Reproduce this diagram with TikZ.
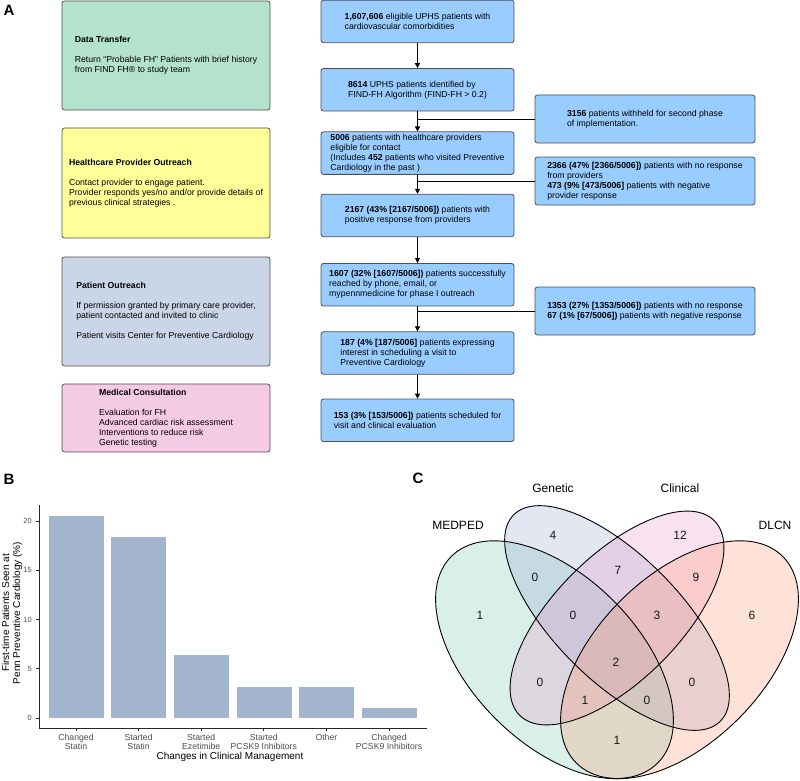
\documentclass[tikz,border=0pt]{standalone}
\usepackage{fontspec}
\setmainfont{Liberation Sans}
\usepackage{xcolor}
\usepackage{tikz}
\usetikzlibrary{arrows.meta,positioning,calc}

\definecolor{flowblue}{HTML}{99CCFF}
\definecolor{boxline}{HTML}{505050}
\definecolor{stagegreen}{HTML}{B3E2CD}
\definecolor{stageyellow}{HTML}{FFFF99}
\definecolor{stagelilac}{HTML}{CBD5E8}
\definecolor{stagepink}{HTML}{F4CAE4}
\definecolor{barfill}{HTML}{A2B5CD}
\definecolor{axisgray}{HTML}{4D4D4D}
\definecolor{vgreen}{HTML}{66C2A5}
\definecolor{vblue}{HTML}{8DA0CB}
\definecolor{vpink}{HTML}{E78AC3}
\definecolor{vorange}{HTML}{FC8D62}

\newcommand{\flowfont}{\fontsize{8.7}{10}\selectfont}

\begin{document}
\begin{tikzpicture}[x=1pt, y=-1pt,
  node distance=25pt,
  flowbox/.style={draw=boxline, fill=flowblue, rounded corners=2.5pt, align=left,
                  font=\flowfont, minimum width=193pt, minimum height=42.5pt,
                  inner sep=0pt, line width=0.8pt},
  sidebox/.style={flowbox, minimum width=220pt, minimum height=48pt},
  stagebox/.style={draw=boxline, rounded corners=2.5pt, align=left, font=\flowfont,
                   minimum width=208pt, inner sep=0pt, line width=0.8pt},
  arr/.style={-{Triangle[length=5pt, width=5pt]}, line width=0.7pt},
  link/.style={line width=0.7pt},
  panel/.style={font=\fontsize{15}{15}\selectfont\bfseries, inner sep=0pt},
  axisline/.style={line width=0.9pt, draw=black!85},
  bar/.style={fill=barfill, draw=white, line width=0.6pt},
  xlab/.style={font=\fontsize{8.7}{9.3}\selectfont, text=axisgray, align=center, inner sep=0pt},
  ylab/.style={font=\fontsize{7.5}{7.5}\selectfont, text=axisgray, anchor=east, inner sep=0pt},
  title/.style={font=\fontsize{10}{11}\selectfont, align=center, inner sep=0pt},
  vset/.style={font=\fontsize{12}{12}\selectfont, inner sep=0pt},
  vnum/.style={font=\fontsize{12}{12}\selectfont, inner sep=0pt, text=black!90}]
  \useasboundingbox (0,0) rectangle (800,781);

  % panel A: stages
  \node[panel] (labA) at (9,10) {A};
  \node[stagebox, fill=stagegreen, minimum height=109pt] (transfer) at (166,55.5)
    {\textbf{Data Transfer}\\[10pt]Return “Probable FH” Patients with brief history\\from FIND FH® to study team};
  \node[stagebox, fill=stageyellow, minimum height=110pt] (provider) at (166,183)
    {\textbf{Healthcare Provider Outreach}\\[10pt]Contact provider to engage patient.\\Provider responds yes/no and/or provide details of\\previous clinical strategies .};
  \node[stagebox, fill=stagelilac, minimum height=109pt] (outreach) at (166,311.5)
    {\textbf{Patient Outreach}\\[10pt]If permission granted by primary care provider,\\patient contacted and invited to clinic\\[10pt]Patient visits Center for Preventive Cardiology};
  \node[stagebox, fill=stagepink, minimum height=68pt] (consult) at (166,418)
    {\textbf{Medical Consultation}\\[10pt]Evaluation for FH\\Advanced cardiac risk assessment\\Interventions to reduce risk\\Genetic testing};

  % panel A: patient flow
  \node[flowbox] (elig) at (417.5,21.5)
    {\textbf{1,607,606} eligible UPHS patients with\\cardiovascular comorbidities};
  \node[flowbox, below=25pt of elig] (ident)
    {\textbf{8614} UPHS patients identified by\\FIND-FH Algorithm (FIND-FH > 0.2)};
  \node[flowbox, below=20pt of ident] (contact)
    {\textbf{5006} patients with healthcare providers\\eligible for contact\\(Includes \textbf{452} patients who visited Preventive\\Cardiology in the past )};
  \node[flowbox, below=19pt of contact] (positive)
    {\textbf{2167 (43\% [2167/5006])} patients with\\positive response from providers};
  \node[flowbox, below=26pt of positive] (reached)
    {\textbf{1607 (32\% [1607/5006])} patients successfully\\reached by phone, email, or\\mypennmedicine for phase I outreach};
  \node[flowbox, below=25pt of reached] (interest)
    {\textbf{187 (4\% [187/5006]} patients expressing\\interest in scheduling a visit to\\Preventive Cardiology};
  \node[flowbox, below=24pt of interest] (sched)
    {\textbf{153 (3\% [153/5006])} patients scheduled for\\visit and clinical evaluation};

  \node[sidebox] (withheld) at (645,119)
    {\textbf{3156} patients withheld for second phase\\of implementation.};
  \node[sidebox] (noresp) at (645,181)
    {\textbf{2366 (47\% [2366/5006])} patients with no response\\from providers\\\textbf{473 (9\% [473/5006]} patients with negative\\provider response};
  \node[sidebox] (patresp) at (645,311)
    {\textbf{1353 (27\% [1353/5006])} patients with no response\\\textbf{67 (1\% [67/5006])} patients with negative response};

  \draw[arr] (elig) -- (ident);
  \draw[arr] (ident) -- (contact);
  \draw[arr] (contact) -- (positive);
  \draw[arr] (positive) -- (reached);
  \draw[arr] (reached) -- (interest);
  \draw[arr] (interest) -- (sched);
  \draw[link] (ident.south |- withheld.west) -- (withheld.west);
  \draw[link] (contact.south |- noresp.west) -- (noresp.west);
  \draw[link] (reached.south |- patresp.west) -- (patresp.west);

  % panel B: bar chart
  \node[panel] (labB) at (9,479) {B};
  \draw[bar] (48,718) rectangle (104,515);
  \draw[bar] (110.6,718) rectangle (166.6,535.8);
  \draw[bar] (173.2,718) rectangle (229.2,654);
  \draw[bar] (235.8,718) rectangle (291.8,686);
  \draw[bar] (298.4,718) rectangle (354.4,686);
  \draw[bar] (361,718) rectangle (417,707.2);
  \draw[axisline] (39,505) -- (39,728) -- (427,728);
  \draw[axisline] (36,718) -- (39,718) (36,668.75) -- (39,668.75) (36,619.5) -- (39,619.5)
    (36,570.25) -- (39,570.25) (36,521) -- (39,521);
  \draw[axisline] (76,728) -- (76,731) (138.6,728) -- (138.6,731) (201.2,728) -- (201.2,731)
    (263.8,728) -- (263.8,731) (326.4,728) -- (326.4,731) (389,728) -- (389,731);
  \node[ylab] (y0) at (32,718) {0};
  \node[ylab] (y5) at (32,668.75) {5};
  \node[ylab] (y10) at (32,619.5) {10};
  \node[ylab] (y15) at (32,570.25) {15};
  \node[ylab] (y20) at (32,521) {20};
  \node[xlab, anchor=north] (xchs) at (76,733.5) {Changed\\Statin};
  \node[xlab, anchor=north] (xsts) at (138.6,733.5) {Started\\Statin};
  \node[xlab, anchor=north] (xeze) at (201.2,733.5) {Started\\Ezetimibe};
  \node[xlab, anchor=north] (xpcsk) at (263.8,733.5) {Started\\PCSK9 Inhibitors};
  \node[xlab, anchor=north] (xoth) at (326.4,733.5) {Other};
  \node[xlab, anchor=north] (xchp) at (389,733.5) {Changed\\PCSK9 Inhibitors};
  \node[title] (xtitle) at (230,757) {Changes in Clinical Management};
  \node[title, rotate=90] (ytitle) at (12,613) {First-time Patients Seen at\\Penn Preventive Cardiology (\%)};

  % panel C: Venn diagram
  \node[panel] (labC) at (418,478) {C};
  \fill[vgreen, fill opacity=0.25, rotate around={135:(554.5,659.7)}]
    (554.5,659.7) ellipse [x radius=146pt, y radius=83.4pt];
  \fill[vblue, fill opacity=0.25, rotate around={135:(617,618)}]
    (617,618) ellipse [x radius=146pt, y radius=62.6pt];
  \fill[vpink, fill opacity=0.25, rotate around={45:(617,618)}]
    (617,618) ellipse [x radius=137.6pt, y radius=62.6pt];
  \fill[vorange, fill opacity=0.25, rotate around={45:(679.5,659.7)}]
    (679.5,659.7) ellipse [x radius=146pt, y radius=83.4pt];
  \draw[line width=0.9pt, rotate around={135:(554.5,659.7)}]
    (554.5,659.7) ellipse [x radius=146pt, y radius=83.4pt];
  \draw[line width=0.9pt, rotate around={135:(617,618)}]
    (617,618) ellipse [x radius=146pt, y radius=62.6pt];
  \draw[line width=0.9pt, rotate around={45:(617,618)}]
    (617,618) ellipse [x radius=137.6pt, y radius=62.6pt];
  \draw[line width=0.9pt, rotate around={45:(679.5,659.7)}]
    (679.5,659.7) ellipse [x radius=146pt, y radius=83.4pt];
  \node[vset] (medped) at (458,525) {MEDPED};
  \node[vset] (genetic) at (553,488) {Genetic};
  \node[vset] (clinical) at (680,488) {Clinical};
  \node[vset] (dlcn) at (775,525) {DLCN};
  \node[vnum] (nG) at (553,535) {4};
  \node[vnum] (nC) at (680,535) {12};
  \node[vnum] (nMG) at (535,577) {0};
  \node[vnum] (nGC) at (618,570) {7};
  \node[vnum] (nCD) at (696,577) {9};
  \node[vnum] (nM) at (480,615) {1};
  \node[vnum] (nMGC) at (573,615) {0};
  \node[vnum] (nGCD) at (657,615) {3};
  \node[vnum] (nD) at (752,615) {6};
  \node[vnum] (nAll) at (616,662) {2};
  \node[vnum] (nMC) at (540,682) {0};
  \node[vnum] (nGD) at (692,682) {0};
  \node[vnum] (nMCD) at (585,700) {1};
  \node[vnum] (nMGD) at (647,700) {0};
  \node[vnum] (nMD) at (617,740) {1};
\end{tikzpicture}
\end{document}
